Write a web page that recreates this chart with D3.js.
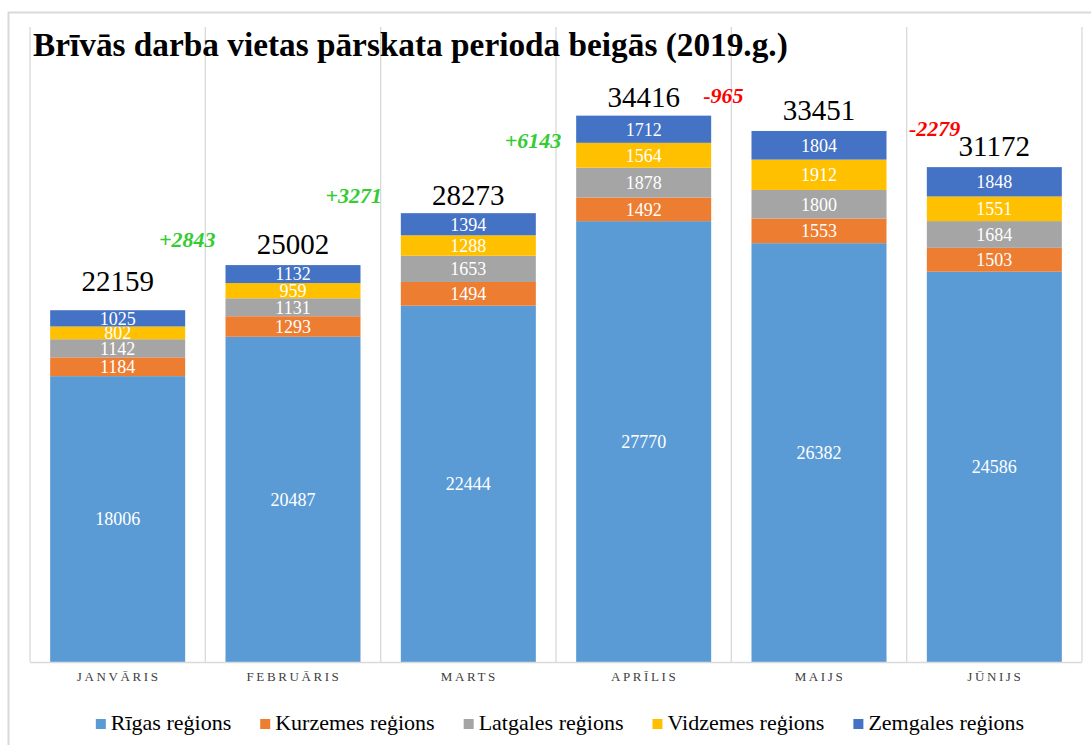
<!DOCTYPE html>
<html>
<head>
<meta charset="utf-8">
<script src="https://cdn.jsdelivr.net/npm/d3@7"></script>
<style>
    body { margin: 0; background: #fff; }
    text { font-family: "Liberation Serif", "Times New Roman", serif; }
</style>
</head>
<body>
<svg id="chart" width="1091" height="745"></svg>
<script>
// data
var months = ["JANVĀRIS", "FEBRUĀRIS", "MARTS", "APRĪLIS", "MAIJS", "JŪNIJS"];
var seriesNames = ["Rīgas reģions", "Kurzemes reģions", "Latgales reģions", "Vidzemes reģions", "Zemgales reģions"];
var rigas    = [18006, 20487, 22444, 27770, 26382, 24586];
var kurzemes = [1184, 1293, 1494, 1492, 1553, 1503];
var latgales = [1142, 1131, 1653, 1878, 1800, 1684];
var vidzemes = [802, 959, 1288, 1564, 1912, 1551];
var zemgales = [1025, 1132, 1394, 1712, 1804, 1848];
var colors = ["#5B9BD5", "#ED7D31", "#A5A5A5", "#FFC000", "#4472C4"];

var svg = d3.select("#chart");

// outer chart frame
svg.append("rect")
    .attr("x", 8.5).attr("y", 12.5)
    .attr("width", 1200).attr("height", 800)
    .attr("fill", "none").attr("stroke", "#d9d9d9").attr("stroke-width", 2);

var plotLeft = 30, plotRight = 1082, plotTop = 27, plotBottom = 662;

var table = months.map(function (m, i) {
    return {
        month: m,
        "Rīgas reģions": rigas[i],
        "Kurzemes reģions": kurzemes[i],
        "Latgales reģions": latgales[i],
        "Vidzemes reģions": vidzemes[i],
        "Zemgales reģions": zemgales[i]
    };
});
var totals = table.map(function (d) {
    return d3.sum(seriesNames, function (k) { return d[k]; });
});

var x = d3.scaleBand().domain(months).range([plotLeft, plotRight])
    .paddingInner(0.23).paddingOuter(0.115);
var y = d3.scaleLinear().domain([0, 40000]).range([plotBottom, plotTop]);

// vertical gridlines between categories
var bounds = d3.range(months.length + 1).map(function (i) { return plotLeft + i * x.step(); });
svg.append("g").selectAll("line").data(bounds).enter().append("line")
    .attr("x1", function (d) { return d; }).attr("x2", function (d) { return d; })
    .attr("y1", plotTop).attr("y2", plotBottom)
    .attr("stroke", "#d9d9d9").attr("stroke-width", 1.3);

var stack = d3.stack().keys(seriesNames)(table);

var layers = svg.append("g").selectAll("g").data(stack).enter().append("g")
    .attr("fill", function (d, i) { return colors[i]; });

layers.selectAll("rect").data(function (d) { return d; }).enter().append("rect")
    .attr("x", function (d) { return x(d.data.month); })
    .attr("y", function (d) { return y(d[1]); })
    .attr("width", x.bandwidth())
    .attr("height", function (d) { return y(d[0]) - y(d[1]); });

layers.selectAll("text").data(function (d) { return d; }).enter().append("text")
    .attr("x", function (d) { return x(d.data.month) + x.bandwidth() / 2; })
    .attr("y", function (d) { return (y(d[0]) + y(d[1])) / 2; })
    .attr("dy", "0.35em")
    .attr("text-anchor", "middle")
    .attr("fill", "#fff")
    .style("font-size", "18px")
    .text(function (d) { return d[1] - d[0]; });

// baseline
svg.append("line")
    .attr("x1", plotLeft).attr("x2", plotRight).attr("y1", plotBottom + 0.5).attr("y2", plotBottom + 0.5)
    .attr("stroke", "#d9d9d9").attr("stroke-width", 1.5);

// category labels
svg.append("g").selectAll("text").data(months).enter().append("text")
    .attr("x", function (d) { return x(d) + x.bandwidth() / 2 + 1; })
    .attr("y", 681)
    .attr("text-anchor", "middle")
    .style("font-size", "13px")
    .style("letter-spacing", "2.6px")
    .attr("fill", "#404040")
    .text(function (d) { return d; });

// totals above bars
var totalDy = [-19, -11, -8, -9, -11, -11];
svg.append("g").selectAll("text").data(totals).enter().append("text")
    .attr("x", function (d, i) { return x(months[i]) + x.bandwidth() / 2; })
    .attr("y", function (d, i) { return y(d) + totalDy[i]; })
    .attr("text-anchor", "middle")
    .style("font-size", "29px")
    .attr("fill", "#000")
    .text(function (d) { return d; });

// month-to-month change notes
var changes = totals.slice(1).map(function (t, i) { return t - totals[i]; });
var noteLevel = [26625, 29400, 32870, 35710, 33630];
var noteDx = [-18, -27, -23, -8, 28];
svg.append("g").selectAll("text").data(changes).enter().append("text")
    .attr("x", function (d, i) { return bounds[i + 1] + noteDx[i]; })
    .attr("y", function (d, i) { return y(noteLevel[i]); })
    .attr("dy", "0.35em")
    .attr("text-anchor", "middle")
    .style("font-size", "22px")
    .style("font-weight", "bold")
    .style("font-style", "italic")
    .attr("fill", function (d) { return d > 0 ? "#33CC33" : "#FF0000"; })
    .text(function (d) { return (d > 0 ? "+" : "") + d; });

// title
svg.append("text")
    .attr("x", 33).attr("y", 56)
    .style("font-size", "33.3px").style("font-weight", "bold")
    .attr("fill", "#000")
    .text("Brīvās darba vietas pārskata perioda beigās (2019.g.)");

// legend, centred under the plot
var legend = svg.append("g");
var lx = 0;
seriesNames.forEach(function (name, i) {
    var item = legend.append("g").attr("transform", "translate(" + lx + ",0)");
    item.append("rect").attr("x", 0).attr("y", 719).attr("width", 10).attr("height", 10)
        .attr("fill", colors[i]);
    var t = item.append("text").attr("x", 15).attr("y", 730)
        .style("font-size", "22px").attr("fill", "#000").text(name);
    lx += 15 + t.node().getComputedTextLength() + (i < seriesNames.length - 1 ? 29 : 0);
});
legend.attr("transform", "translate(" + (560 - lx / 2) + ",0)");
</script>
</body>
</html>
